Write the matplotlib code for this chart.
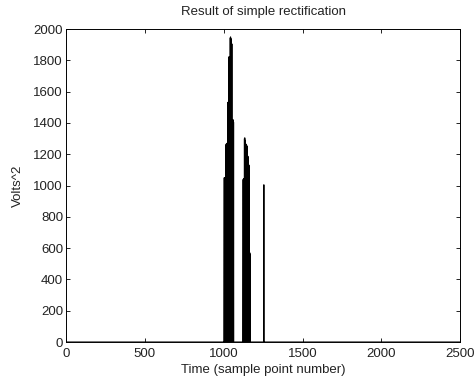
import numpy as np
import matplotlib
matplotlib.use("Agg")
import matplotlib.pyplot as plt

# rectified signal: non-zero samples (index, volts^2), everything else is zero
n_samples = 2500
burst1_idx = [1004, 1006, 1008, 1010, 1012, 1014, 1016, 1018, 1020, 1022, 1024,
              1026, 1028, 1030, 1032, 1034, 1036, 1038, 1040, 1042, 1044, 1046,
              1050, 1052, 1057, 1059, 1061, 1063]
burst1_val = [1050, 1045, 1050, 1048, 1050, 1046, 1265, 1260, 1270, 1262, 1258,
              1530, 1525, 1535, 1820, 1815, 1825, 1818, 1822, 1945, 1950, 1940,
              1910, 1905, 1415, 1410, 1420, 1405]
burst2_idx = [1124, 1126, 1128, 1130, 1132, 1134, 1136, 1138, 1140, 1142, 1144,
              1146, 1148, 1150, 1152, 1154, 1156, 1158, 1160, 1162, 1164, 1166, 1168]
burst2_val = [1040, 1035, 1045, 1040, 1300, 1305, 1290, 1262, 1255, 1265, 1250,
              1258, 1250, 1240, 1190, 1185, 1140, 1135, 1130, 570, 565, 570, 560]
spike_idx = [1255]
spike_val = [1005]

y = np.zeros(n_samples + 1)
y[burst1_idx] = burst1_val
y[burst2_idx] = burst2_val
y[spike_idx] = spike_val
t = np.arange(n_samples + 1)

plt.rcParams['font.family'] = ['Liberation Sans', 'DejaVu Sans']
fs = 9.5
txt = '#222222'

fig = plt.figure(figsize=(4.77, 3.83), dpi=100)
ax = fig.add_axes([0.138, 0.107, 0.827, 0.817])
ax.plot(t, y, color='k', linewidth=0.8)

ax.set_xlim(0, 2500)
ax.set_ylim(0, 2000)
ax.set_xticks(np.arange(0, 2501, 500))
ax.set_yticks(np.arange(0, 2001, 200))
ax.tick_params(direction='in', top=True, right=True, length=3, width=0.6,
               labelsize=fs, labelcolor=txt)
ax.tick_params(axis='x', pad=4)
ax.tick_params(axis='y', pad=2)
for s in ax.spines.values():
    s.set_linewidth(0.7)
ax.set_title('Result of simple rectification', fontsize=fs, pad=10, color=txt)
ax.set_xlabel('Time (sample point number)', fontsize=fs, labelpad=3, color=txt)
ax.set_ylabel('Volts^2', fontsize=fs, labelpad=7, color=txt)

fig.savefig('out.png', dpi=100)
